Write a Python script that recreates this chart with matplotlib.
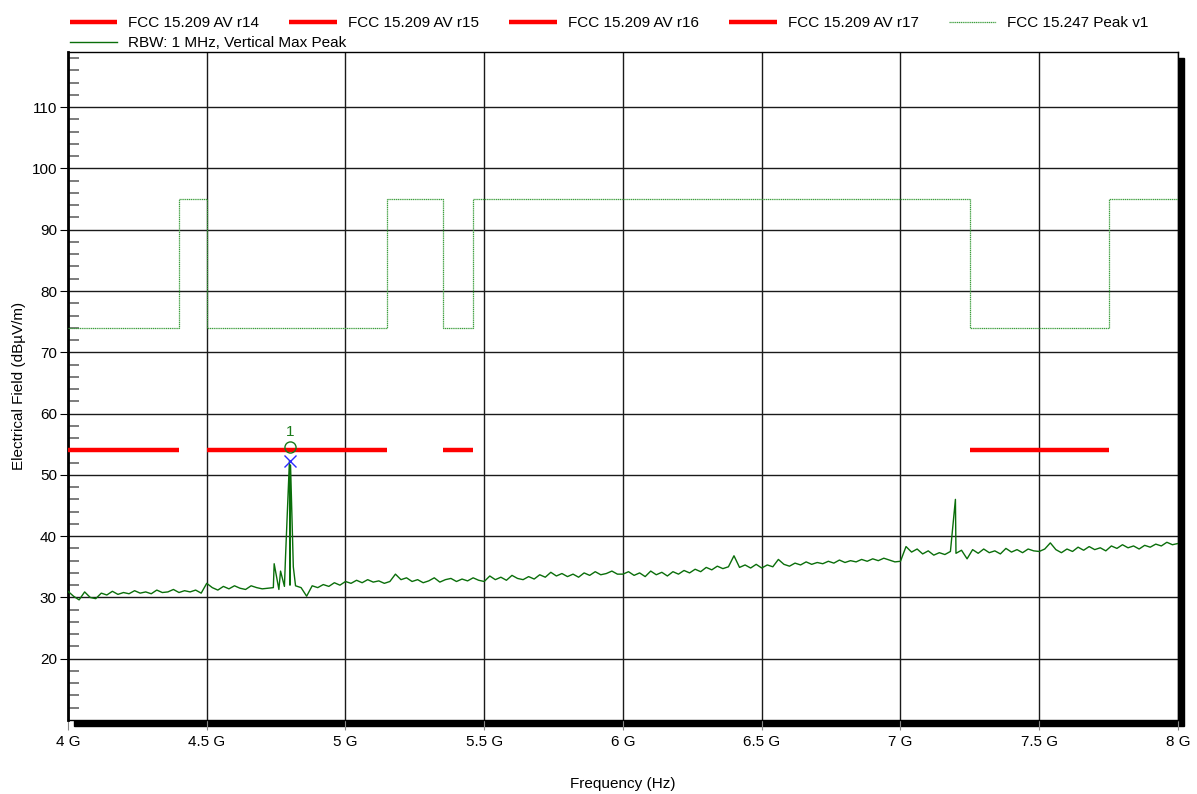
import numpy as np
import matplotlib.pyplot as plt
from matplotlib.patches import Rectangle
from matplotlib.ticker import MultipleLocator, FixedLocator, FuncFormatter

plt.rcParams['font.family'] = ['Liberation Sans', 'DejaVu Sans']

# sweep grid, 20 MHz steps (GHz)
sweep_ghz = np.round(np.arange(4.0, 8.0001, 0.02), 3)

# measured max-peak trace, one block per 0.5 GHz (dBuV/m)
lvl_4g0 = [31.0, 30.2, 29.6, 30.9, 30.0, 29.8, 30.7, 30.4, 31.0, 30.5, 30.8, 30.6, 31.1,
           30.7, 30.9, 30.6, 31.2, 30.8, 30.9, 31.3, 30.8, 31.1, 30.9, 31.2, 30.7]
lvl_4g5 = [32.3, 31.6, 31.2, 31.8, 31.4, 31.9, 31.5, 31.3, 31.9, 31.6, 31.4, 31.5, 31.6,
           31.3, 31.8, 32.0, 31.9, 31.6, 30.2, 31.9, 31.6, 32.1, 31.8, 32.4, 32.0]
lvl_5g0 = [32.6, 32.3, 32.8, 32.4, 32.9, 32.5, 32.7, 32.3, 32.6, 33.8, 32.9, 33.2, 32.6,
           32.9, 32.4, 32.7, 33.2, 32.5, 32.9, 33.1, 32.6, 33.0, 32.7, 33.2, 32.8]
lvl_5g5 = [32.6, 33.5, 32.9, 33.3, 32.8, 33.6, 33.1, 32.9, 33.4, 33.0, 33.7, 33.3, 34.1,
           33.5, 33.9, 33.4, 33.8, 33.3, 34.0, 33.6, 34.2, 33.7, 33.9, 34.3, 33.8]
lvl_6g0 = [33.8, 34.2, 33.6, 34.0, 33.4, 34.3, 33.7, 34.1, 33.5, 34.2, 33.8, 34.4, 34.0,
           34.6, 34.2, 34.9, 34.5, 35.1, 34.7, 35.0, 36.8, 34.9, 35.3, 34.8, 35.4]
lvl_6g5 = [34.8, 35.3, 35.0, 36.2, 35.4, 35.1, 35.6, 35.3, 35.8, 35.4, 35.7, 35.5, 35.9,
           35.6, 36.1, 35.7, 36.0, 35.8, 36.2, 35.9, 36.3, 36.0, 36.4, 36.1, 35.8]
lvl_7g0 = [35.9, 38.3, 37.4, 37.9, 37.1, 37.6, 36.9, 37.3, 37.0, 37.5, 37.2, 37.7, 36.3,
           37.8, 37.2, 37.9, 37.3, 37.6, 37.1, 38.0, 37.4, 37.8, 37.3, 37.9, 37.6]
lvl_7g5 = [37.5, 37.9, 38.9, 37.8, 37.3, 37.9, 37.5, 38.2, 37.7, 38.3, 37.8, 38.1, 37.6,
           38.4, 38.0, 38.6, 38.1, 38.4, 37.9, 38.5, 38.2, 38.7, 38.4, 39.0, 38.6, 38.8]

# narrow emissions between grid points
spur_ghz = [4.743, 4.766, 4.784, 4.798, 4.802, 4.812, 7.198]
spur_lvl = [35.5, 34.3, 36.7, 52.3, 51.6, 35.0, 46.0]

# limit lines
av_limit = 54.0
av_spans = [(4.0, 4.4, 'r14'), (4.5, 5.15, 'r15'), (5.35, 5.46, 'r16'), (7.25, 7.75, 'r17')]
peak_edges = [4.0, 4.4, 4.5, 5.15, 5.35, 5.46, 7.25, 7.75, 8.0]
peak_lvls = [74, 95, 74, 95, 74, 95, 74, 95]

marker_f = 4.80
marker_lvl = 52.3

trace_lvl = lvl_4g0 + lvl_4g5 + lvl_5g0 + lvl_5g5 + lvl_6g0 + lvl_6g5 + lvl_7g0 + lvl_7g5
f_all = np.concatenate([sweep_ghz, spur_ghz])
l_all = np.concatenate([trace_lvl, spur_lvl])
order = np.argsort(f_all, kind='stable')
f_all, l_all = f_all[order], l_all[order]

fig = plt.figure(figsize=(11.97, 7.94), dpi=100)
ax = fig.add_axes([0.0568, 0.0932, 0.9273, 0.8413])
ax.set_zorder(2)

# drop shadow on the right/bottom of the plot frame
pos = ax.get_position()
dx, dy = 6 / 1197, 6 / 794
fig.patches.append(Rectangle((pos.x0 + dx, pos.y0 - dy), pos.width, pos.height,
                             transform=fig.transFigure, color='black', zorder=0))

h = []
for lo, hi, tag in av_spans:
    ln, = ax.plot([lo, hi], [av_limit, av_limit], color='#ff0000', lw=3.2,
                  solid_capstyle='butt', label='FCC 15.209 AV ' + tag, zorder=4)
    h.append(ln)

pk_x = np.repeat(peak_edges, 2)[1:-1]
pk_y = np.repeat(peak_lvls, 2)
pk, = ax.plot(pk_x, pk_y, color='#3f9f3f', lw=0.9, ls=(0, (1, 0.5)),
              label='FCC 15.247 Peak v1', zorder=3)
tr, = ax.plot(f_all, l_all, color='#0a6e0a', lw=1.0,
              label='RBW: 1 MHz, Vertical Max Peak', zorder=5)

ax.plot(marker_f, marker_lvl, marker='x', color='#2a2aff', ms=9, mew=1.0, zorder=6)
ax.plot(marker_f, marker_lvl + 2.2, marker='o', mfc='none', mec='#1a7a1a', ms=8, mew=1.0, zorder=6)
ax.text(marker_f, marker_lvl + 3.6, '1', color='#1a7a1a', fontsize=11, ha='center', va='bottom', zorder=6)

ax.set_xlim(4.0, 8.0)
ax.set_ylim(10, 119)
ax.xaxis.set_major_locator(MultipleLocator(0.5))
ax.xaxis.set_major_formatter(FuncFormatter(lambda v, p: f'{v:g} G'))
ax.yaxis.set_major_locator(FixedLocator(range(20, 111, 10)))
ax.yaxis.set_minor_locator(FixedLocator([v for v in range(12, 119, 2) if v % 10]))
ax.yaxis.set_major_formatter(FuncFormatter(lambda v, p: f'{v:.0f}'))
ax.grid(True, which='major', color='#1a1a1a', lw=1.0)
ax.tick_params(axis='x', which='major', direction='out', length=7, color='#888888', labelsize=11, pad=4)
ax.tick_params(axis='y', which='major', direction='out', length=6, color='black', labelsize=11, pad=2)
ax.tick_params(axis='y', which='minor', direction='in', length=8, color='#666666', width=1.2)
for s in ['top', 'right', 'bottom']:
    ax.spines[s].set_linewidth(1.0)
ax.spines['left'].set_linewidth(2.0)

ax.set_xlabel('Frequency (Hz)', fontsize=11, labelpad=20)
ax.set_ylabel('Electrical Field (dBµV/m)', fontsize=11, labelpad=4)

# legend: limit lines in one row, trace on the row below
row1 = [h[0], h[1], h[2], h[3], pk]
fig.legend(handles=row1, labels=[x.get_label() for x in row1], ncol=5,
           loc='upper left', bbox_to_anchor=(0.046, 0.998), frameon=False, fontsize=11,
           handlelength=3.1, handletextpad=0.72, columnspacing=2.0, borderpad=0.45)
fig.legend(handles=[tr], labels=[tr.get_label()], loc='upper left',
           bbox_to_anchor=(0.046, 0.973), frameon=False, fontsize=11,
           handlelength=3.1, handletextpad=0.72, borderpad=0.45)

fig.savefig('out.png', dpi=100)
